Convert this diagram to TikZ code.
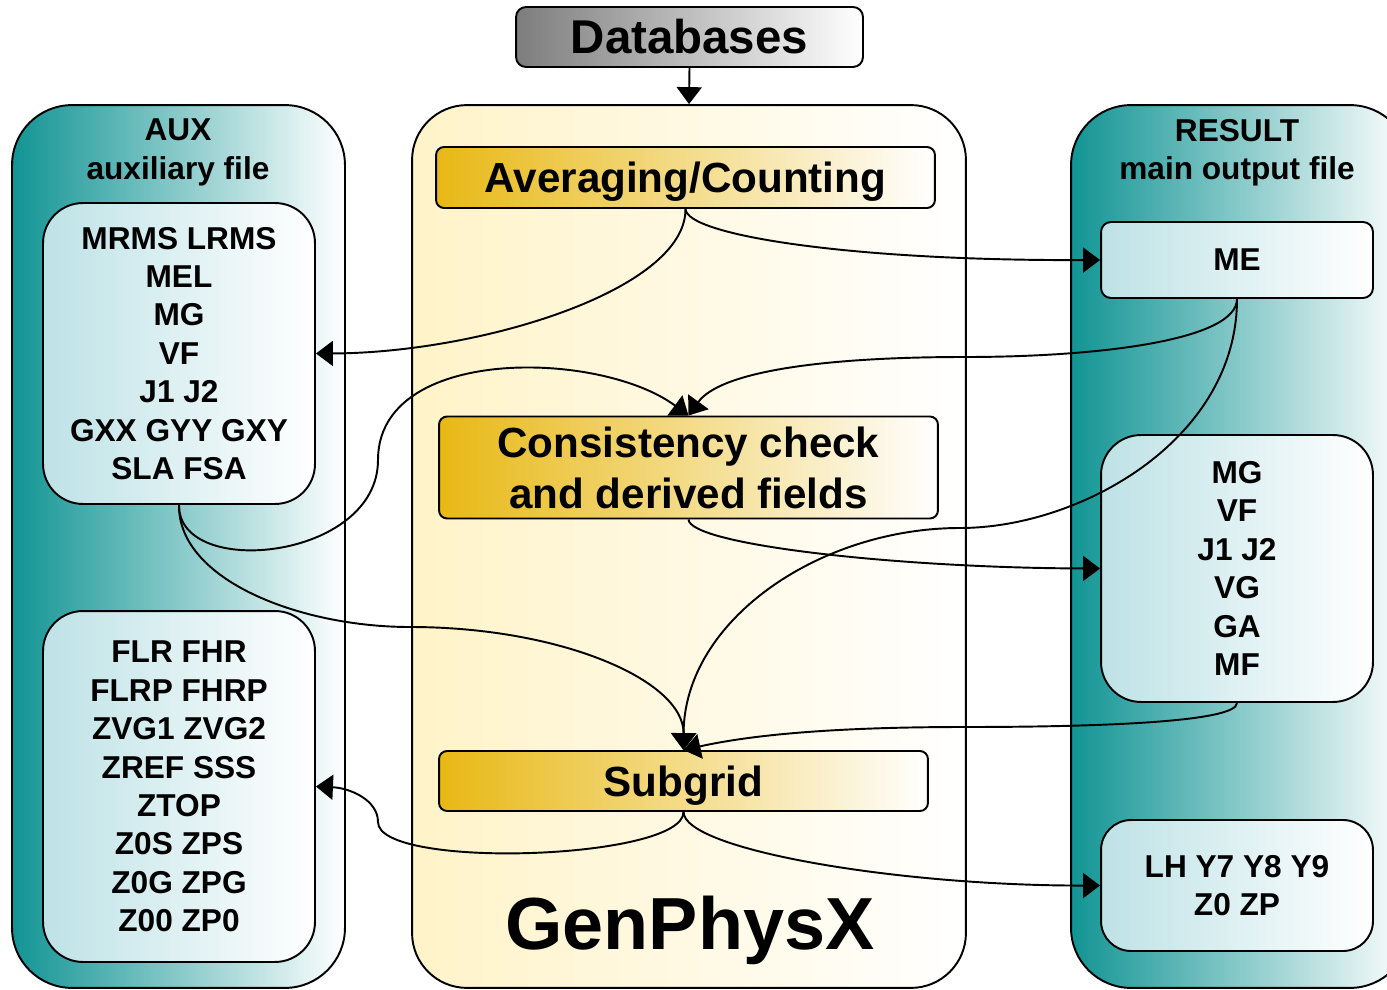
\documentclass[tikz,border=0pt]{standalone}
\usepackage{fontspec}
\setmainfont{Liberation Sans}
\usetikzlibrary{arrows.meta, positioning}
\definecolor{gpxteal}{RGB}{18,148,148}
\definecolor{gpxcyan}{RGB}{190,226,230}
\definecolor{gpxcream}{RGB}{255,243,200}
\definecolor{gpxgold}{RGB}{232,184,20}
\definecolor{gpxgray}{RGB}{125,125,125}

\begin{document}
\begin{tikzpicture}[x=0.02cm, y=-0.02cm,
  filepanel/.style={draw, line width=1.1pt, rounded corners=1.2cm, left color=gpxteal, right color=white, minimum width=#1, minimum height=17.66cm},
  corepanel/.style={draw, line width=1.1pt, rounded corners=1.1cm, left color=gpxcream, right color=white, minimum width=11.08cm, minimum height=17.66cm},
  varbox/.style={draw, line width=1.1pt, left color=gpxcyan, right color=white, minimum width=5.44cm, inner sep=0pt, align=center, font=\bfseries\fontsize{18}{21.85}\selectfont},
  stagebox/.style={draw, line width=1.1pt, rounded corners=0.16cm, left color=gpxgold, right color=white, inner sep=0pt, align=center, font=\bfseries\fontsize{24}{29}\selectfont},
  oneline/.style={text height=17.2pt, text depth=0pt},
  titletext/.style={align=center, font=\bfseries\fontsize{18}{21.85}\selectfont},
  flow/.style={line width=1.1pt, -{Triangle[length=0.34cm, width=0.5cm]}}
]
  \useasboundingbox (0,0) rectangle (1387,990);

  % panels
  \node[filepanel=6.66cm] (auxpanel) at (178.5,546.5) {};
  \node[filepanel=6.78cm] (respanel) at (1240.5,546.5) {};
  \node[corepanel] (core) at (689,546.5) {};

  \node[titletext] (auxtitle) at (178,152.5) {AUX\\auxiliary file};
  \node[titletext] (restitle) at (1237,153) {RESULT\\main output file};

  % databases on top
  \node[draw, line width=1.1pt, rounded corners=0.2cm, left color=gpxgray, right color=white, minimum width=6.94cm, minimum height=1.2cm, inner sep=0pt, text height=19.3pt, text depth=0pt, font=\bfseries\fontsize{27}{32}\selectfont] (db) at (689.5,37) {Databases};
  \draw[flow] (db.south) -- (core.north);

  % processing stages
  \node[stagebox, oneline, minimum width=9.98cm, minimum height=1.22cm] (avg) at (685.5,177.5) {Averaging/Counting};
  \node[stagebox, minimum width=9.98cm, minimum height=2.04cm] (cons) at (688.5,467.5) {Consistency check\\and derived fields};
  \node[stagebox, oneline, minimum width=9.78cm, minimum height=1.2cm] (subgrid) at (683.5,781) {Subgrid};
  \node[anchor=base, font=\bfseries\fontsize{42}{50}\selectfont] (gpx) at (690,949) {GenPhysX};

  % variable boxes
  \node[varbox, rounded corners=0.8cm, minimum height=6.02cm] (auxa) at (179,353.5) {MRMS LRMS\\MEL\\MG\\VF\\J1 J2\\GXX GYY GXY\\SLA FSA};
  \node[varbox, rounded corners=0.8cm, minimum height=7.02cm] (auxb) at (179,786.5) {FLR FHR\\FLRP FHRP\\ZVG1 ZVG2\\ZREF SSS\\ZTOP\\Z0S ZPS\\Z0G ZPG\\Z00 ZP0};
  \node[varbox, rounded corners=0.2cm, minimum height=1.52cm] (me) at (1237,260) {ME};
  \node[varbox, rounded corners=0.8cm, minimum height=5.34cm] (resb) at (1237,568.5) {MG\\VF\\J1 J2\\VG\\GA\\MF};
  \node[varbox, rounded corners=0.6cm, minimum height=2.62cm] (resc) at (1237,885.5) {LH Y7 Y8 Y9\\Z0 ZP};

  % connectors
  \draw[flow] (avg.south) .. controls (686,235) and (850,261) .. (me.west);
  \draw[flow] (avg.south) .. controls (686,290) and (480,353) .. (auxa.east);
  \draw[flow] (me.south) .. controls (1237,340) and (1100,357) .. (965,357) .. controls (820,357) and (720,372) .. (cons.north);
  \draw[flow] (auxa.south) .. controls (178,580) and (378,560) .. (378,460) .. controls (378,345) and (600,350) .. (cons.north);
  \draw[flow] (cons.south) .. controls (690,545) and (900,568) .. (resb.west);
  \draw[flow] (me.south) .. controls (1237,440) and (1080,528) .. (960,528) .. controls (820,528) and (684,620) .. (subgrid.north);
  \draw[flow] (auxa.south) .. controls (178,580) and (300,627) .. (410,627) .. controls (560,627) and (684,680) .. (subgrid.north);
  \draw[flow] (resb.south) .. controls (1237,722) and (1100,727) .. (965,727) .. controls (850,727) and (760,733) .. (subgrid.north);
  \draw[flow] (subgrid.south) .. controls (684,860) and (378,870) .. (378,822) .. controls (378,800) and (350,788) .. (auxb.east);
  \draw[flow] (subgrid.south) .. controls (684,850) and (900,886) .. (resc.west);
\end{tikzpicture}
\end{document}
